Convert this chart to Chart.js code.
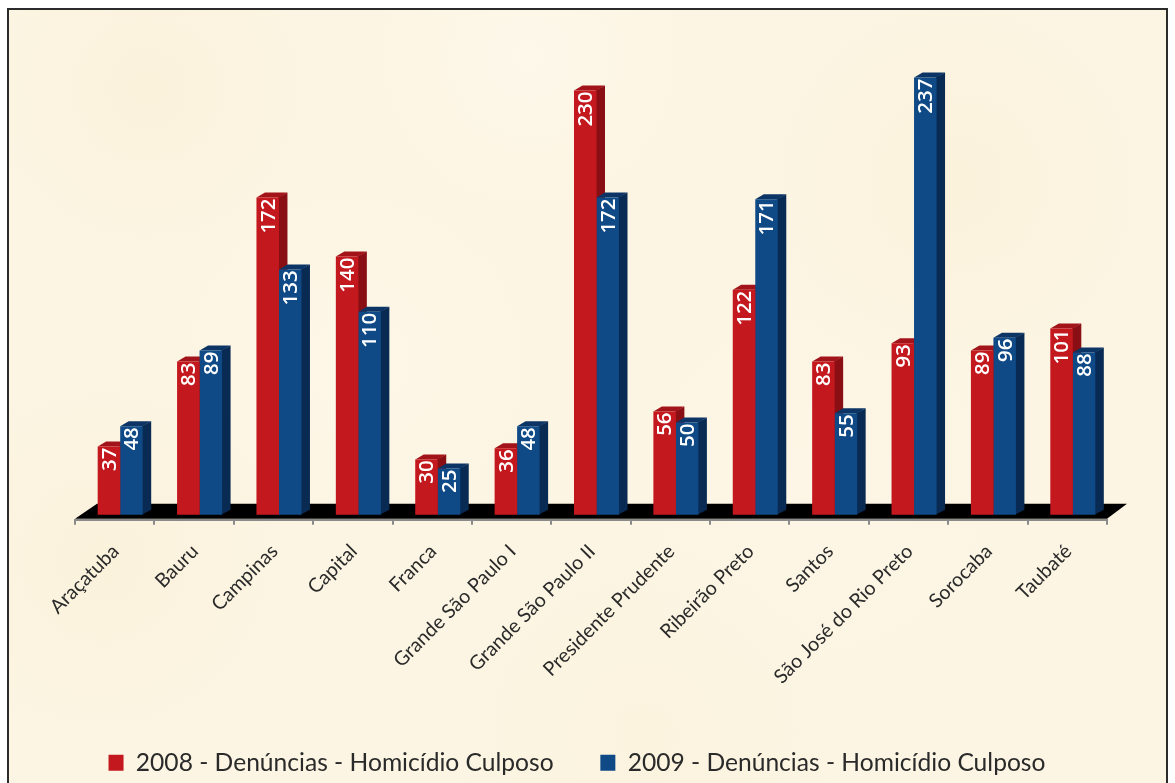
<!DOCTYPE html>
<html>
<head>
<meta charset="utf-8">
<script src="https://cdn.jsdelivr.net/npm/chart.js@4/dist/chart.umd.min.js"></script>
<style>
  html, body { margin: 0; padding: 0; background: #fff; overflow: hidden; }
  #frame {
    position: absolute; left: 7px; top: 8px; width: 1161px; height: 790px;
    border: 2px solid #2b2b2b; box-sizing: border-box;
    background-color: #fcf5e3;
    background-image:
      radial-gradient(circle at 12% 10%, #fbf2dc 0, rgba(251,242,220,0) 14%),
      radial-gradient(circle at 45% 6%, #fdf8ea 0, rgba(253,248,234,0) 16%),
      radial-gradient(circle at 82% 22%, #fbf2dc 0, rgba(251,242,220,0) 18%),
      radial-gradient(circle at 30% 45%, #fdf7e8 0, rgba(253,247,232,0) 20%),
      radial-gradient(circle at 70% 60%, #fdf6e6 0, rgba(253,246,230,0) 22%),
      radial-gradient(circle at 8% 70%, #fbf2dc 0, rgba(251,242,220,0) 16%),
      radial-gradient(circle at 55% 92%, #fbf3de 0, rgba(251,243,222,0) 20%);
  }
  #wrap { position: absolute; left: 0; top: 0; width: 1175px; height: 783px; }
</style>
</head>
<body>
<div id="frame"></div>
<div id="wrap"><canvas id="myChart" width="1175" height="783"></canvas></div>
<script>
const categories = ['Araçatuba', 'Bauru', 'Campinas', 'Capital', 'Franca', 'Grande São Paulo I', 'Grande São Paulo II', 'Presidente Prudente', 'Ribeirão Preto', 'Santos', 'São José do Rio Preto', 'Sorocaba', 'Taubaté'];
const values2008 = [37, 83, 172, 140, 30, 36, 230, 56, 122, 83, 93, 89, 101];
const values2009 = [48, 89, 133, 110, 25, 48, 172, 50, 171, 55, 237, 96, 88];

// fake 3D look
const depthX = 8.5;
const depthY = 5;
const shiftX = 5.5;
const sideColors = ['#8a0f14', '#092a52'];
const topColors = ['#a3141a', '#0c3566'];

const bars3d = {
  id: 'bars3d',
  afterLayout(chart) {
    // legend sits a little left of the plot centre
    chart.legend.left -= 14;
    chart.legend.right -= 14;
  },
  beforeDatasetsDraw(chart) {
    const ctx = chart.ctx;
    const x = chart.scales.x;
    const floorY = x.top - 1;
    ctx.save();
    ctx.fillStyle = '#000';
    ctx.beginPath();
    ctx.moveTo(x.left, floorY);
    ctx.lineTo(x.right, floorY);
    ctx.lineTo(x.right + 20, floorY - 15);
    ctx.lineTo(x.left + 22, floorY - 15);
    ctx.closePath();
    ctx.fill();
    // side and top faces go under all the front faces
    ctx.translate(shiftX, 0);
    chart.data.datasets.forEach((ds, i) => {
      chart.getDatasetMeta(i).data.forEach(bar => {
        const right = bar.x + bar.width / 2;
        const left = bar.x - bar.width / 2;
        ctx.fillStyle = sideColors[i];
        ctx.beginPath();
        ctx.moveTo(right - 1, bar.y);
        ctx.lineTo(right + depthX, bar.y - depthY);
        ctx.lineTo(right + depthX, bar.base - depthY);
        ctx.lineTo(right - 1, bar.base);
        ctx.closePath();
        ctx.fill();
        ctx.fillStyle = topColors[i];
        ctx.beginPath();
        ctx.moveTo(left, bar.y);
        ctx.lineTo(left + depthX, bar.y - depthY);
        ctx.lineTo(right + depthX, bar.y - depthY);
        ctx.lineTo(right, bar.y);
        ctx.closePath();
        ctx.fill();
      });
    });
    ctx.restore();
  },
  beforeDatasetDraw(chart) {
    chart.ctx.save();
    chart.ctx.translate(shiftX, 0);
  },
  afterDatasetDraw(chart) {
    chart.ctx.restore();
  },
  afterDatasetsDraw(chart) {
    const ctx = chart.ctx;
    chart.data.datasets.forEach((ds, i) => {
      chart.getDatasetMeta(i).data.forEach((bar, j) => {
        ctx.save();
        ctx.translate(bar.x + shiftX + 1, bar.y + 1);
        ctx.rotate(-Math.PI / 2);
        ctx.font = '600 20.5px "Open Sans"';
        ctx.fillStyle = '#fff';
        ctx.textAlign = 'right';
        ctx.textBaseline = 'middle';
        ctx.fillText(ds.data[j], 0, 0);
        ctx.restore();
      });
    });
  }
};

const ctx = document.getElementById('myChart').getContext('2d');

const myChart = new Chart(ctx, {
  type: 'bar',
  data: {
    labels: categories,
    datasets: [{
      label: '2008 - Denúncias - Homicídio Culposo',
      data: values2008,
      backgroundColor: '#c4181f',
      clip: false
    }, {
      label: '2009 - Denúncias - Homicídio Culposo',
      data: values2009,
      backgroundColor: '#0f4a86',
      clip: false
    }]
  },
  options: {
    responsive: false,
    animation: false,
    events: [],
    categoryPercentage: 0.567,
    barPercentage: 1,
    layout: { padding: { left: 75, right: 68, top: 72, bottom: -2 } },
    scales: {
      x: {
        afterFit(scale) { scale.height = 184; },
        border: { color: '#8a8a8a', width: 2 },
        grid: { drawOnChartArea: false, color: '#8a8a8a', lineWidth: 2, tickLength: 5 },
        ticks: {
          autoSkip: false,
          maxRotation: 45,
          minRotation: 45,
          padding: 15,
          labelOffset: 1,
          color: '#2a2a2a',
          font: { family: 'Lato', size: 19.7 }
        }
      },
      y: {
        display: false,
        min: -2.7,
        max: 240
      }
    },
    plugins: {
      tooltip: { enabled: false },
      legend: {
        position: 'bottom',
        labels: {
          boxWidth: 15,
          boxHeight: 16,
          padding: 46.7,
          color: '#2a2a2a',
          font: { family: 'Lato', size: 24.6 }
        }
      }
    }
  },
  plugins: [bars3d]
});
</script>
</body>
</html>
